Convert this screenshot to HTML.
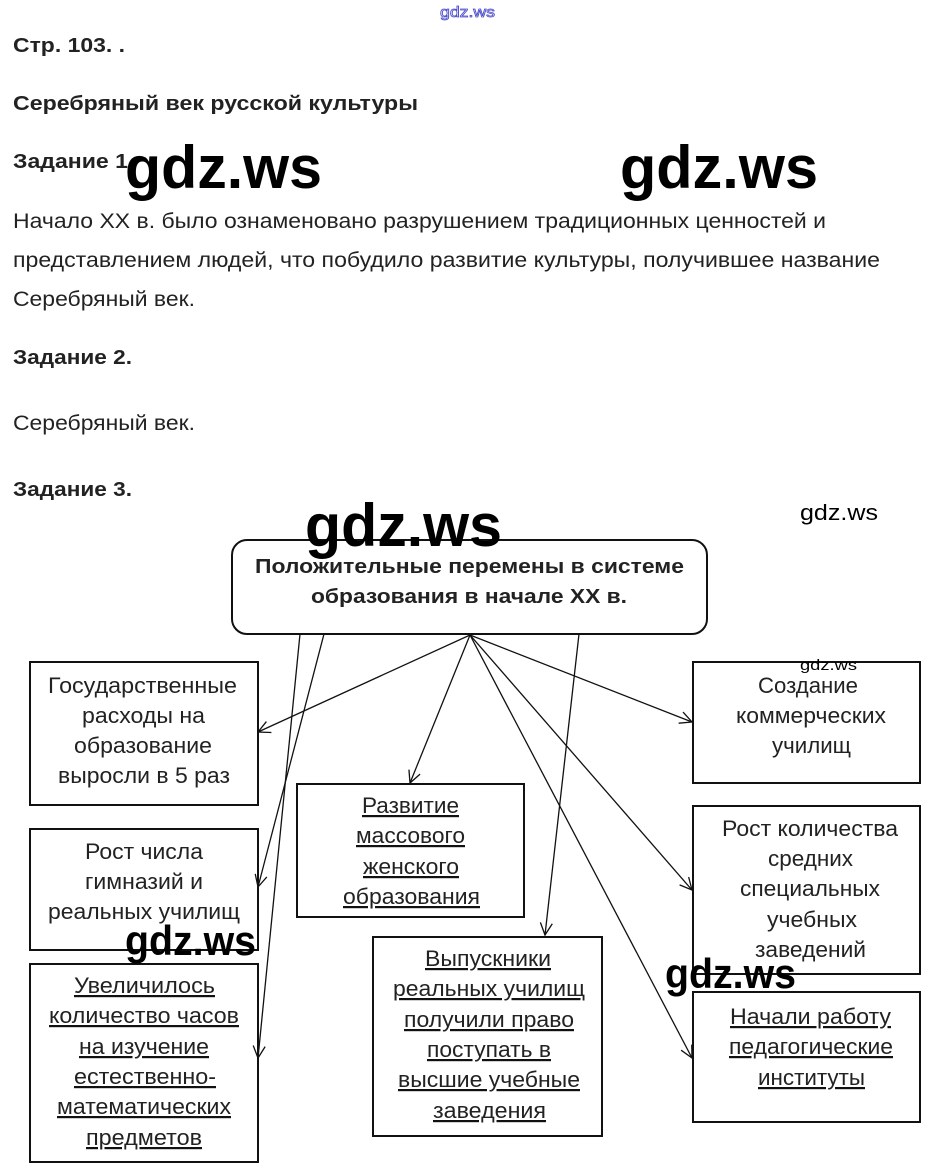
<!DOCTYPE html>
<html><head><meta charset="utf-8"><style>
html,body{margin:0;padding:0;background:#fff;}
svg{display:block;}
text{font-family:"Liberation Sans",sans-serif;fill:#222;}
.b{font-weight:bold;}
.w{font-family:"Liberation Sans",sans-serif;fill:#000;font-weight:bold;}
.d{font-size:22px;fill:#111;}
.u{text-decoration:underline;}
</style></head><body>
<svg width="934" height="1173" viewBox="0 0 934 1173" xmlns="http://www.w3.org/2000/svg">
<defs><marker id="a" markerWidth="14" markerHeight="14" refX="13" refY="7" orient="auto" markerUnits="userSpaceOnUse"><path d="M1,1 L13,7 L1,13" fill="none" stroke="#111" stroke-width="1.3"/></marker></defs>
<text x="440" y="17" font-size="15" style="fill:#fff;stroke:#4a4acc;stroke-width:0.8" textLength="55" lengthAdjust="spacingAndGlyphs">gdz.ws</text>
<text class="b" x="13" y="52" font-size="20" textLength="112" lengthAdjust="spacingAndGlyphs">Стр. 103. .</text>
<text class="b" x="13" y="110" font-size="20" textLength="405" lengthAdjust="spacingAndGlyphs">Серебряный век русской культуры</text>
<text class="b" x="13" y="168" font-size="20" textLength="115" lengthAdjust="spacingAndGlyphs">Задание 1</text>
<text x="13" y="228" font-size="21" textLength="813" lengthAdjust="spacingAndGlyphs">Начало XX в. было ознаменовано разрушением традиционных ценностей и</text>
<text x="13" y="267" font-size="21" textLength="867" lengthAdjust="spacingAndGlyphs">представлением людей, что побудило развитие культуры, получившее название</text>
<text x="13" y="306" font-size="21" textLength="182" lengthAdjust="spacingAndGlyphs">Серебряный век.</text>
<text class="b" x="13" y="364" font-size="20" textLength="119" lengthAdjust="spacingAndGlyphs">Задание 2.</text>
<text x="13" y="430" font-size="21" textLength="182" lengthAdjust="spacingAndGlyphs">Серебряный век.</text>
<text class="b" x="13" y="496" font-size="20" textLength="119" lengthAdjust="spacingAndGlyphs">Задание 3.</text>

<g stroke="#111" stroke-width="1.3" fill="none">
<line x1="470" y1="635" x2="258" y2="732" marker-end="url(#a)"/>
<line x1="470" y1="635" x2="410" y2="783" marker-end="url(#a)"/>
<line x1="470" y1="635" x2="692" y2="722" marker-end="url(#a)"/>
<line x1="470" y1="635" x2="692" y2="890" marker-end="url(#a)"/>
<line x1="470" y1="635" x2="692" y2="1058" marker-end="url(#a)"/>
<line x1="324" y1="634" x2="258" y2="887" marker-end="url(#a)"/>
<line x1="300" y1="634" x2="258" y2="1058" marker-end="url(#a)"/>
<line x1="579" y1="634" x2="545" y2="935" marker-end="url(#a)"/>
</g>
<g stroke="#111" stroke-width="2" fill="none">
<rect x="232" y="540" width="475" height="94" rx="15"/>
<rect x="30" y="662" width="228" height="143"/>
<rect x="30" y="829" width="228" height="121"/>
<rect x="30" y="964" width="228" height="198"/>
<rect x="297" y="784" width="227" height="133"/>
<rect x="373" y="937" width="229" height="199"/>
<rect x="693" y="662" width="227" height="121"/>
<rect x="693" y="806" width="227" height="168"/>
<rect x="693" y="992" width="227" height="130"/>
</g>
<text class="b" x="255" y="573" font-size="20" textLength="429" lengthAdjust="spacingAndGlyphs">Положительные перемены в системе</text>
<text class="b" x="311" y="603" font-size="20" textLength="316" lengthAdjust="spacingAndGlyphs">образования в начале XX в.</text>

<g class="d">
<text x="48" y="693" textLength="189" lengthAdjust="spacingAndGlyphs">Государственные</text>
<text x="82" y="723" textLength="123" lengthAdjust="spacingAndGlyphs">расходы на</text>
<text x="74" y="753" textLength="138" lengthAdjust="spacingAndGlyphs">образование</text>
<text x="58" y="783" textLength="172" lengthAdjust="spacingAndGlyphs">выросли в 5 раз</text>

<text x="85" y="859" textLength="118" lengthAdjust="spacingAndGlyphs">Рост числа</text>
<text x="85" y="889" textLength="118" lengthAdjust="spacingAndGlyphs">гимназий и</text>
<text x="48" y="919" textLength="192" lengthAdjust="spacingAndGlyphs">реальных училищ</text>

<g class="u">
<text x="74" y="993" textLength="141" lengthAdjust="spacingAndGlyphs">Увеличилось</text>
<text x="49" y="1023" textLength="190" lengthAdjust="spacingAndGlyphs">количество часов</text>
<text x="79" y="1054" textLength="130" lengthAdjust="spacingAndGlyphs">на изучение</text>
<text x="74" y="1084" textLength="142" lengthAdjust="spacingAndGlyphs">естественно-</text>
<text x="57" y="1114" textLength="174" lengthAdjust="spacingAndGlyphs">математических</text>
<text x="86" y="1145" textLength="116" lengthAdjust="spacingAndGlyphs">предметов</text>

<text x="362" y="813" textLength="97" lengthAdjust="spacingAndGlyphs">Развитие</text>
<text x="356" y="843" textLength="109" lengthAdjust="spacingAndGlyphs">массового</text>
<text x="363" y="874" textLength="96" lengthAdjust="spacingAndGlyphs">женского</text>
<text x="343" y="904" textLength="137" lengthAdjust="spacingAndGlyphs">образования</text>

<text x="425" y="966" textLength="126" lengthAdjust="spacingAndGlyphs">Выпускники</text>
<text x="393" y="996" textLength="192" lengthAdjust="spacingAndGlyphs">реальных училищ</text>
<text x="404" y="1027" textLength="170" lengthAdjust="spacingAndGlyphs">получили право</text>
<text x="427" y="1057" textLength="124" lengthAdjust="spacingAndGlyphs">поступать в</text>
<text x="398" y="1087" textLength="182" lengthAdjust="spacingAndGlyphs">высшие учебные</text>
<text x="433" y="1118" textLength="113" lengthAdjust="spacingAndGlyphs">заведения</text>

<text x="730" y="1024" textLength="161" lengthAdjust="spacingAndGlyphs">Начали работу</text>
<text x="729" y="1054" textLength="164" lengthAdjust="spacingAndGlyphs">педагогические</text>
<text x="758" y="1085" textLength="107" lengthAdjust="spacingAndGlyphs">институты</text>
</g>

<text x="758" y="693" textLength="100" lengthAdjust="spacingAndGlyphs">Создание</text>
<text x="736" y="723" textLength="150" lengthAdjust="spacingAndGlyphs">коммерческих</text>
<text x="772" y="753" textLength="79" lengthAdjust="spacingAndGlyphs">училищ</text>

<text x="722" y="836" textLength="176" lengthAdjust="spacingAndGlyphs">Рост количества</text>
<text x="768" y="866" textLength="85" lengthAdjust="spacingAndGlyphs">средних</text>
<text x="740" y="896" textLength="140" lengthAdjust="spacingAndGlyphs">специальных</text>
<text x="767" y="927" textLength="90" lengthAdjust="spacingAndGlyphs">учебных</text>
<text x="755" y="957" textLength="111" lengthAdjust="spacingAndGlyphs">заведений</text>
</g>

<text class="w" x="125" y="188" font-size="60" textLength="197" lengthAdjust="spacingAndGlyphs">gdz.ws</text>
<text class="w" x="620" y="188" font-size="60" textLength="198" lengthAdjust="spacingAndGlyphs">gdz.ws</text>
<text class="w" x="305" y="546" font-size="60" textLength="197" lengthAdjust="spacingAndGlyphs">gdz.ws</text>
<text class="w" x="800" y="520" font-size="22" textLength="78" lengthAdjust="spacingAndGlyphs" style="font-weight:normal">gdz.ws</text>
<text class="w" x="800" y="670" font-size="15" textLength="57" lengthAdjust="spacingAndGlyphs" style="font-weight:normal">gdz.ws</text>
<text class="w" x="125" y="955" font-size="42" textLength="131" lengthAdjust="spacingAndGlyphs">gdz.ws</text>
<text class="w" x="665" y="988" font-size="42" textLength="131" lengthAdjust="spacingAndGlyphs">gdz.ws</text>
</svg>
</body></html>
